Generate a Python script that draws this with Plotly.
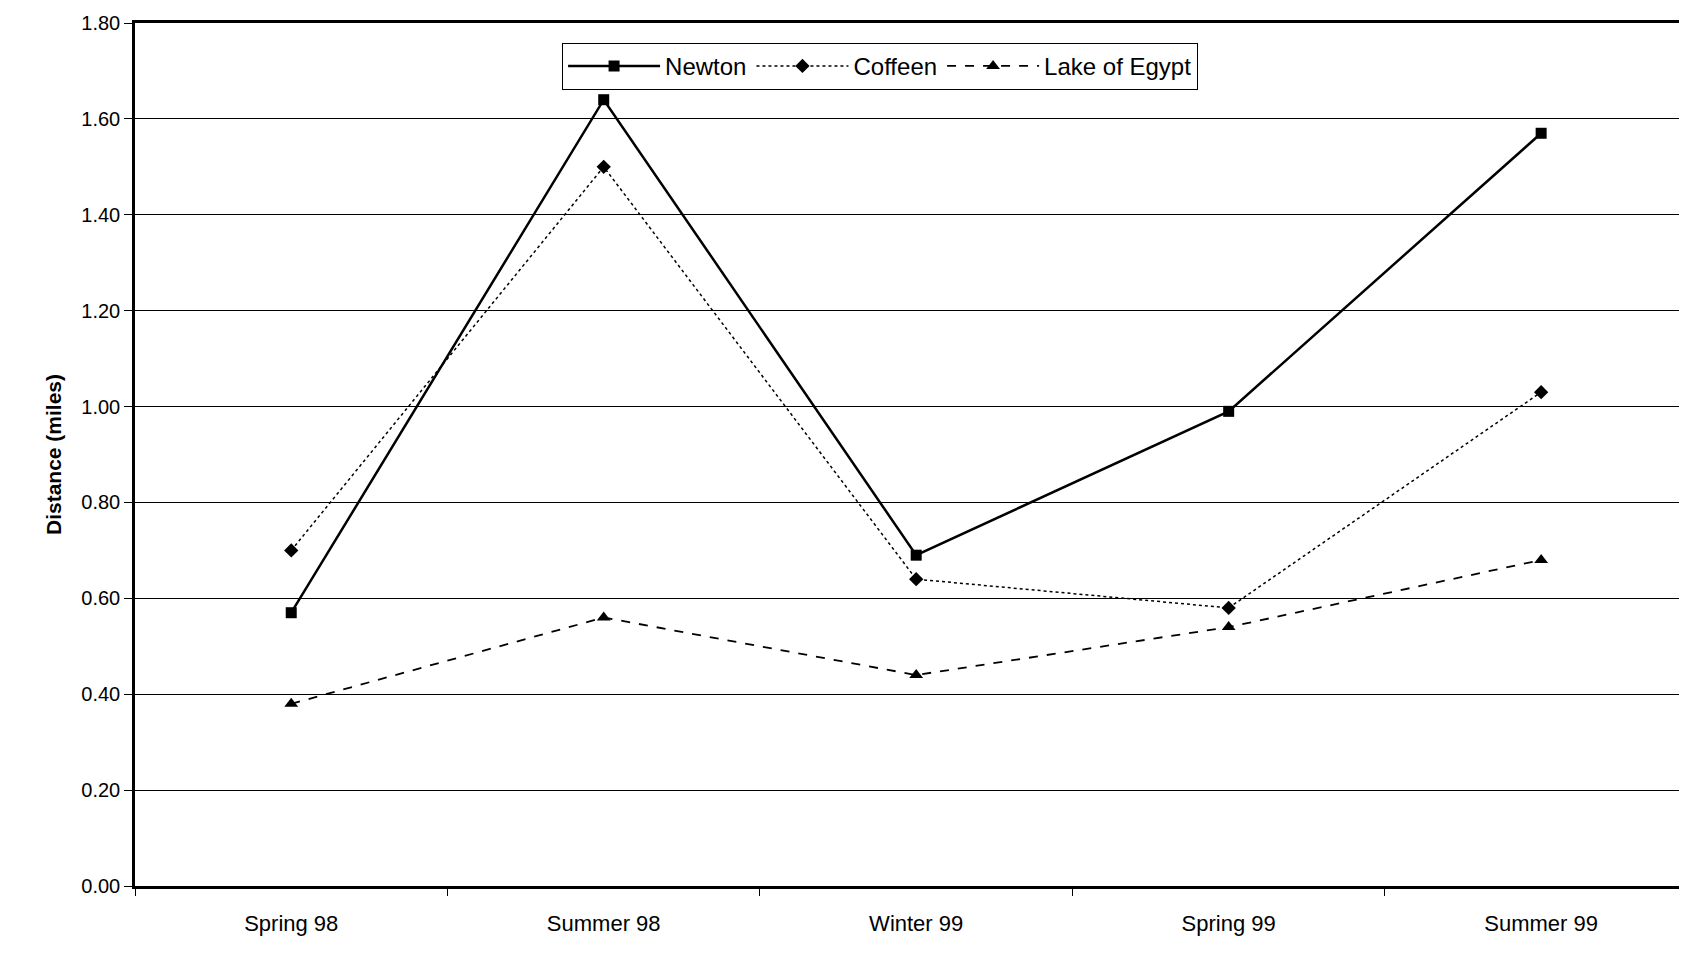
import plotly.graph_objects as go

seasons = ["Spring 98", "Summer 98", "Winter 99", "Spring 99", "Summer 99"]
newton = [0.57, 1.64, 0.69, 0.99, 1.57]
coffeen = [0.70, 1.50, 0.64, 0.58, 1.03]
lake_of_egypt = [0.38, 0.56, 0.44, 0.54, 0.68]

fig = go.Figure()
fig.add_trace(go.Scatter(x=seasons, y=newton, name="Newton", mode="lines+markers",
                         line=dict(color="black", width=2.5),
                         marker=dict(symbol="square", size=11, color="black")))
fig.add_trace(go.Scatter(x=seasons, y=coffeen, name="Coffeen", mode="lines+markers",
                         line=dict(color="black", width=1.5, dash="dot"),
                         marker=dict(symbol="diamond", size=11, color="black")))
fig.add_trace(go.Scatter(x=seasons, y=lake_of_egypt, name="Lake of Egypt", mode="lines+markers",
                         line=dict(color="black", width=1.8, dash="dash"),
                         marker=dict(symbol="triangle-up", size=12, color="black")))

fig.update_layout(
    width=1687, height=964,
    margin=dict(l=127, r=4, t=15, b=86),
    paper_bgcolor="white", plot_bgcolor="white",
    font=dict(family="Liberation Sans, Arial, sans-serif", color="black"),
    legend=dict(orientation="h", x=0.275, y=0.977, xanchor="left", yanchor="top",
                bordercolor="black", borderwidth=1, bgcolor="white",
                font=dict(size=24), itemwidth=92),
    showlegend=True,
)
fig.update_xaxes(type="category", range=[-0.5, 4.47], tickson="boundaries",
                 ticks="outside", ticklen=7, tickcolor="black",
                 ticklabelstandoff=16,
                 showline=True, linecolor="black", linewidth=2.5, mirror=True,
                 showgrid=False, tickfont=dict(size=22))
fig.update_yaxes(range=[0, 1.8], dtick=0.2, tickformat=".2f",
                 ticks="outside", ticklen=8, tickcolor="black",
                 showline=True, linecolor="black", linewidth=2.5, mirror=True,
                 showgrid=True, gridcolor="black", gridwidth=1,
                 zeroline=False, tickfont=dict(size=20),
                 title=dict(text="<b>Distance (miles)</b>",
                            font=dict(size=21, family="Liberation Sans Narrow, Liberation Sans, Arial"),
                            standoff=14))

fig.write_html("out.html")
